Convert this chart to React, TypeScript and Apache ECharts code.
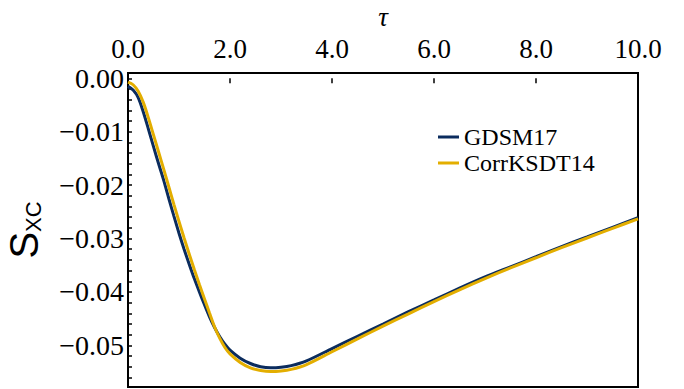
import React, { useEffect, useRef } from "react";
import * as echarts from "echarts";

const tau = [0, 0.1, 0.2, 0.3, 0.4, 0.5, 0.6, 0.7, 0.8, 0.9, 1.0, 1.1, 1.2, 1.3, 1.4, 1.5, 1.6, 1.7, 1.8, 1.9, 2.0, 2.2, 2.4, 2.6, 2.8, 3.0, 3.2, 3.5, 4.0, 4.5, 5.0, 5.5, 6.0, 6.5, 7.0, 7.5, 8.0, 8.5, 9.0, 9.5, 10.0];

const gdsm17 = [-0.0015, -0.0022, -0.0036, -0.0063, -0.0095, -0.0128, -0.016, -0.0191, -0.0225, -0.0258, -0.029, -0.032, -0.0348, -0.0375, -0.04, -0.0424, -0.0447, -0.0467, -0.0484, -0.0498, -0.0509, -0.0524, -0.0534, -0.054, -0.0542, -0.0541, -0.0538, -0.0529, -0.0506, -0.0483, -0.046, -0.0437, -0.0415, -0.0393, -0.0372, -0.0353, -0.0334, -0.0315, -0.0297, -0.0279, -0.0261];

const corrKSDT14 = [-0.0007, -0.0012, -0.0024, -0.0045, -0.0074, -0.0106, -0.0138, -0.017, -0.0203, -0.0236, -0.0268, -0.0299, -0.0329, -0.0358, -0.0386, -0.0413, -0.044, -0.0466, -0.0487, -0.0504, -0.0516, -0.0532, -0.0542, -0.0547, -0.0549, -0.0548, -0.0545, -0.0536, -0.0512, -0.0488, -0.0464, -0.0441, -0.0418, -0.0396, -0.0375, -0.0355, -0.0336, -0.0317, -0.0299, -0.0281, -0.0263];

const seriesNames = ["GDSM17", "CorrKSDT14"];
const yLabelValues = [0, -0.01, -0.02, -0.03, -0.04, -0.05];
const yTickValues = [0, -0.002, -0.004, -0.006, -0.008, -0.01, -0.012, -0.014, -0.016, -0.018, -0.02, -0.022, -0.024, -0.026, -0.028, -0.03, -0.032, -0.034, -0.036, -0.038, -0.04, -0.042, -0.044, -0.046, -0.048, -0.05, -0.052, -0.054, -0.056];

const SERIF = "Liberation Serif";
const SANS = "Liberation Sans";

export default function App() {
  const ref = useRef<HTMLDivElement>(null);
  useEffect(() => {
    document.body.style.margin = "0";
    const chart = echarts.init(ref.current!, null, { renderer: "svg" });
    const zip = (ys: number[]) => tau.map((t, i) => [t, ys[i]]);
    chart.setOption({
      animation: false,
      backgroundColor: "#ffffff",
      grid: {
        left: 128,
        right: 46,
        top: 73,
        bottom: 2,
        outerBoundsMode: "none",
        containLabel: false,
        show: true,
        borderColor: "#000",
        borderWidth: 2,
      },
      legend: {
        orient: "vertical",
        left: 433,
        top: 120,
        itemWidth: 21,
        itemHeight: 3,
        itemGap: 2,
        icon: "rect",
        textStyle: { fontFamily: SERIF, fontSize: 24, color: "#000", lineHeight: 24 },
        data: seriesNames,
      },
      xAxis: [
        {
          type: "value",
          position: "top",
          min: 0,
          max: 10,
          interval: 2,
          name: "τ",
          nameLocation: "middle",
          nameGap: 42,
          nameTextStyle: { fontFamily: SERIF, fontSize: 27, lineHeight: 27, fontStyle: "italic", color: "#000" },
          axisLine: { show: false },
          axisTick: { show: true, inside: true, length: 5, lineStyle: { color: "#000", width: 1.5 } },
          axisLabel: {
            margin: 11,
            fontFamily: SERIF,
            fontSize: 27,
            color: "#000",
            formatter: (v: number) => v.toFixed(1),
          },
          splitLine: { show: false },
        },
      ],
      yAxis: [
        {
          type: "value",
          min: -0.0578,
          max: 0.001,
          name: "{s|S}{sub|XC}",
          nameLocation: "middle",
          nameGap: 84,
          nameTextStyle: {
            rich: {
              s: { fontFamily: SANS, fontSize: 40, color: "#000", verticalAlign: "bottom", lineHeight: 40 },
              sub: { fontFamily: SANS, fontSize: 22, color: "#000", verticalAlign: "bottom", lineHeight: 40 },
            },
          },
          axisLine: { show: false },
          axisTick: {
            show: true,
            inside: true,
            length: 4,
            customValues: yTickValues,
            lineStyle: { color: "#000", width: 1.5 },
          },
          axisLabel: {
            margin: 4,
            fontFamily: SERIF,
            fontSize: 28,
            color: "#000",
            customValues: yLabelValues,
            formatter: (v: number) => (Math.abs(v) < 1e-9 ? "0.00" : "\u2212" + Math.abs(v).toFixed(2)),
          },
          splitLine: { show: false },
        },
      ],
      series: [
        {
          name: seriesNames[0],
          type: "line",
          data: zip(gdsm17),
          smooth: 0.3,
          showSymbol: false,
          lineStyle: { color: "#0b2c5e", width: 3 },
          itemStyle: { color: "#0b2c5e" },
        },
        {
          name: seriesNames[1],
          type: "line",
          data: zip(corrKSDT14),
          smooth: 0.3,
          showSymbol: false,
          lineStyle: { color: "#e3ae00", width: 3 },
          itemStyle: { color: "#e3ae00" },
        },
      ],
    });
    return () => chart.dispose();
  }, []);
  return <div ref={ref} style={{ width: 684, height: 389, position: "fixed", left: 0, top: 0 }} />;
}
